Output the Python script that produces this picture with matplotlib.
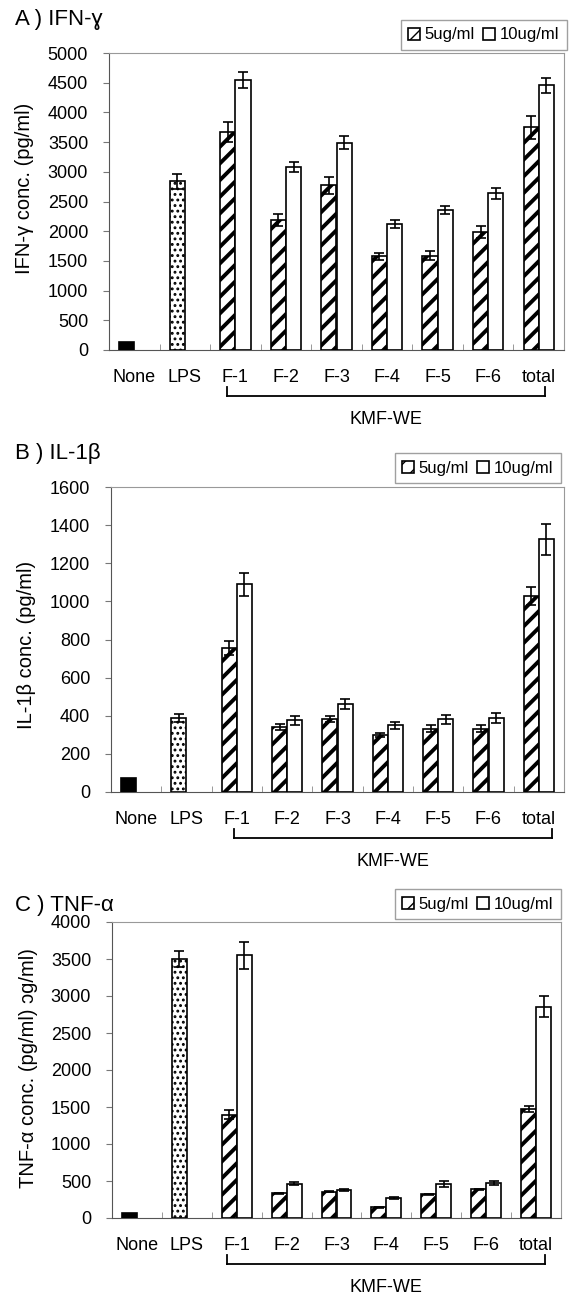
import numpy as np
import matplotlib
matplotlib.use("Agg")
import matplotlib.pyplot as plt
from matplotlib.transforms import offset_copy

plt.rcParams['font.family'] = ['Liberation Sans', 'DejaVu Sans']

categories = ['None', 'LPS', 'F-1', 'F-2', 'F-3', 'F-4', 'F-5', 'F-6', 'total']
doses = ['5ug/ml', '10ug/ml']

# A) IFN-gamma
ifn_ctrl = [140, 2840]
ifn_ctrl_err = [0, 130]
ifn_5 = [3670, 2185, 2775, 1575, 1590, 1990, 3750]
ifn_5_err = [175, 105, 145, 65, 70, 105, 195]
ifn_10 = [4540, 3080, 3490, 2120, 2360, 2640, 4455]
ifn_10_err = [135, 90, 110, 65, 65, 90, 130]

# B) IL-1beta
il_ctrl = [75, 388]
il_ctrl_err = [0, 19]
il_5 = [756, 339, 383, 297, 332, 332, 1029]
il_5_err = [38, 16, 17, 11, 17, 17, 49]
il_10 = [1090, 376, 461, 351, 381, 388, 1325]
il_10_err = [61, 24, 26, 18, 24, 24, 80]

# C) TNF-alpha
tnf_ctrl = [72, 3496]
tnf_ctrl_err = [0, 108]
tnf_5 = [1397, 333, 356, 144, 320, 387, 1473]
tnf_5_err = [58, 10, 10, 8, 8, 8, 41]
tnf_10 = [3550, 464, 383, 270, 460, 478, 2856]
tnf_10_err = [180, 18, 13, 10, 40, 27, 144]

W, H = 569, 1298
fig = plt.figure(figsize=(W / 100, H / 100), dpi=100)

BW = 0.3
ERR_KW = dict(fmt='none', ecolor='black', elinewidth=1.2, capsize=3.5, capthick=1.2, zorder=4)


def draw_panel(rect, title, title_y, legend_box, ylabel, ylabel_y, ymax, ystep,
               ctrl, ctrl_err, v5, e5, v10, e10, bracket):
    l, t, r, b = rect
    ax = fig.add_axes([l / W, 1 - b / H, (r - l) / W, (b - t) / H])
    x = np.arange(len(categories))
    xs = x[2:]

    # controls: single bars at the left slot of the group
    ax.bar(x[0] - BW / 2, ctrl[0], BW, color='black', edgecolor='black', linewidth=1.2, zorder=3)
    with plt.rc_context({'hatch.linewidth': 1.3}):
        ax.bar(x[1] - BW / 2, ctrl[1], BW, color='white', edgecolor='black', hatch='...',
               linewidth=1.2, zorder=3)
    ax.errorbar(x[1] - BW / 2, ctrl[1], yerr=ctrl_err[1], **ERR_KW)

    with plt.rc_context({'hatch.linewidth': 2.8}):
        h5 = ax.bar(xs - BW / 2, v5, BW, color='white', edgecolor='black', hatch='//',
                    linewidth=1.2, zorder=3, label=doses[0])
    h10 = ax.bar(xs + BW / 2, v10, BW, color='white', edgecolor='black',
                 linewidth=1.2, zorder=3, label=doses[1])
    ax.errorbar(xs - BW / 2, v5, yerr=e5, **ERR_KW)
    ax.errorbar(xs + BW / 2, v10, yerr=e10, **ERR_KW)

    ax.set_xlim(-0.5, len(categories) - 0.5)
    ax.set_ylim(0, ymax)
    ax.set_yticks(np.arange(0, ymax + 1, ystep))
    ax.set_xticks(x)
    ax.set_xticklabels(categories)
    ax.set_xticks(np.arange(0.5, len(categories) - 1, 1), minor=True)
    ax.tick_params(axis='x', which='major', length=0, pad=13.5, labelsize=13)
    ax.tick_params(axis='x', which='minor', direction='in', length=4, color='#888888')
    ax.tick_params(axis='y', direction='out', length=4, pad=11, labelsize=13, color='#777777')
    for s in ['left', 'bottom']:
        ax.spines[s].set_color('#555555')
    for s in ['top', 'right']:
        ax.spines[s].set_color('#999999')
    ax.set_ylabel(ylabel, fontsize=14.5)
    ax.yaxis.set_label_coords(-0.165, (b - ylabel_y) / (b - t))

    # KMF-WE bracket under the fraction labels
    tr_line = offset_copy(ax.get_xaxis_transform(), fig=fig, y=-46, units='dots')
    tr_txt = offset_copy(ax.get_xaxis_transform(), fig=fig, y=-69, units='dots')
    bx0, bx1 = bracket
    ax.plot([bx0, bx1], [0, 0], color='black', lw=1.3, transform=tr_line, clip_on=False)
    for bx in (bx0, bx1):
        px = ax.transData.transform((bx, 0))[0]
        fig.add_artist(plt.Line2D([px / W, px / W], [1 - (b + 46) / H, 1 - (b + 37) / H],
                                  color='black', lw=1.3))
    ax.text((bx0 + bx1) / 2, 0, 'KMF-WE', transform=tr_txt, ha='center', va='center', fontsize=13)

    fig.text(15 / W, 1 - title_y / H, title, fontsize=16, ha='left', va='center')
    lr, lt = legend_box
    ax.legend(handles=[h5, h10], loc='upper right', bbox_to_anchor=(lr / W, 1 - lt / H),
              bbox_transform=fig.transFigure, ncol=2, frameon=True, fancybox=False,
              edgecolor='#888888', fontsize=12, handlelength=0.7, handleheight=0.7,
              handletextpad=0.3, columnspacing=0.5, borderpad=0.45, borderaxespad=0)
    return ax


draw_panel((109, 53, 564, 350), 'A ) IFN-ɣ', 20, (567, 20), 'IFN-γ conc. (pg/ml)', 188,
           5000, 500, ifn_ctrl, ifn_ctrl_err, ifn_5, ifn_5_err, ifn_10, ifn_10_err, (1.83, 8.12))
draw_panel((111, 487, 564, 792), 'B ) IL-1β', 453, (561, 453), 'IL-1β conc. (pg/ml)', 645,
           1600, 200, il_ctrl, il_ctrl_err, il_5, il_5_err, il_10, il_10_err, (1.94, 8.26))
draw_panel((112, 922, 561, 1218), 'C ) TNF-α', 905, (561, 889), 'TNF-α conc. (pg/ml) ɔg/ml)', 1068,
           4000, 500, tnf_ctrl, tnf_ctrl_err, tnf_5, tnf_5_err, tnf_10, tnf_10_err, (1.8, 8.18))

fig.savefig('out.png', dpi=100)
